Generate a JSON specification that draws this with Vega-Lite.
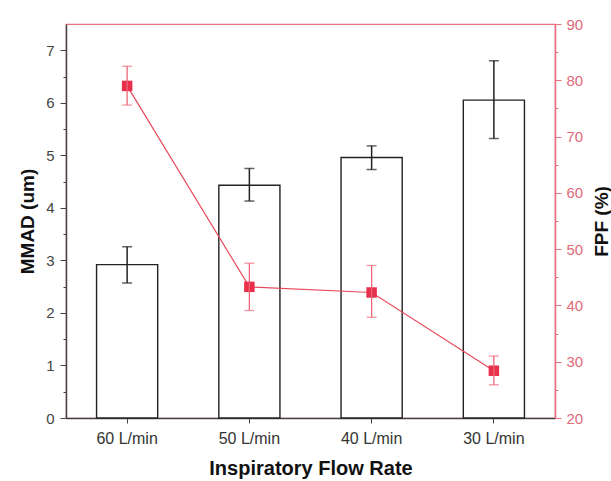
{
  "$schema": "https://vega.github.io/schema/vega-lite/v6.json",
  "width": 489,
  "height": 394,
  "autosize": "none",
  "padding": {"left": 66, "top": 24, "right": 56, "bottom": 63},
  "background": "white",
  "config": {
    "view": {"stroke": "#e8707f", "strokeWidth": 1.2},
    "font": "Liberation Sans",
    "axis": {"grid": false}
  },
  "data": {
    "values": [
      {"rate": "60 L/min", "mmad": 2.92, "mmad_lo": 2.57, "mmad_hi": 3.26, "fpf": 79.0, "fpf_lo": 75.6, "fpf_hi": 82.5},
      {"rate": "50 L/min", "mmad": 4.43, "mmad_lo": 4.13, "mmad_hi": 4.75, "fpf": 43.3, "fpf_lo": 39.1, "fpf_hi": 47.5},
      {"rate": "40 L/min", "mmad": 4.96, "mmad_lo": 4.73, "mmad_hi": 5.18, "fpf": 42.3, "fpf_lo": 37.9, "fpf_hi": 47.1},
      {"rate": "30 L/min", "mmad": 6.05, "mmad_lo": 5.32, "mmad_hi": 6.8, "fpf": 28.4, "fpf_lo": 25.9, "fpf_hi": 31.0}
    ]
  },
  "encoding": {
    "x": {
      "field": "rate",
      "type": "nominal",
      "sort": ["60 L/min", "50 L/min", "40 L/min", "30 L/min"],
      "scale": {"paddingInner": 0.5, "paddingOuter": 0.25},
      "axis": {
        "title": "Inspiratory Flow Rate",
        "labelAngle": 0,
        "labelFontSize": 16,
        "labelColor": "#333",
        "labelPadding": 7,
        "domainColor": "#444",
        "domainWidth": 1.5,
        "tickColor": "#444",
        "tickSize": 5,
        "titleFontSize": 20,
        "titleFontWeight": "bold",
        "titleColor": "#111",
        "titlePadding": 12
      }
    }
  },
  "layer": [
    {
      "encoding": {
        "y": {
          "field": "mmad",
          "type": "quantitative",
          "scale": {"domain": [0, 7.5], "nice": false},
          "axis": {
            "title": "MMAD (um)",
            "values": [0, 0.5, 1, 1.5, 2, 2.5, 3, 3.5, 4, 4.5, 5, 5.5, 6, 6.5, 7],
            "labelExpr": "datum.value % 1 === 0 ? format(datum.value, 'd') : ''",
            "tickSize": {"condition": {"test": "datum.value % 1 === 0", "value": 6}, "value": 3},
            "labelFontSize": 15,
            "labelColor": "#444",
            "labelPadding": 6,
            "domainColor": "#444",
            "domainWidth": 1.5,
            "tickColor": "#444",
            "titleFontSize": 19,
            "titleFontWeight": "bold",
            "titleColor": "#111",
            "titlePadding": 8
          }
        }
      },
      "layer": [
        {"mark": {"type": "bar", "fill": "white", "stroke": "#222", "strokeWidth": 1.4}},
        {
          "mark": {"type": "errorbar", "color": "#222", "ticks": {"size": 10}, "thickness": 1.5},
          "encoding": {
            "y": {"field": "mmad_lo", "type": "quantitative", "title": "MMAD (um)"},
            "y2": {"field": "mmad_hi"}
          }
        }
      ]
    },
    {
      "encoding": {
        "y": {
          "field": "fpf",
          "type": "quantitative",
          "scale": {"domain": [20, 90], "nice": false, "zero": false},
          "axis": {
            "orient": "right",
            "title": "FPF (%)",
            "values": [20, 25, 30, 35, 40, 45, 50, 55, 60, 65, 70, 75, 80, 85, 90],
            "labelExpr": "datum.value % 10 === 0 ? format(datum.value, 'd') : ''",
            "tickSize": {"condition": {"test": "datum.value % 10 === 0", "value": 6}, "value": 3},
            "labelFontSize": 15,
            "labelColor": "#e06a7a",
            "labelPadding": 5,
            "domainColor": "#e8707f",
            "domainWidth": 1.5,
            "tickColor": "#e8707f",
            "titleFontSize": 19,
            "titleFontWeight": "bold",
            "titleColor": "#111",
            "titleAngle": 270,
            "titleBaseline": "middle",
            "titleAlign": "center",
            "titleX": 46,
            "titleY": 197
          }
        }
      },
      "layer": [
        {"mark": {"type": "line", "color": "#e8495b", "strokeWidth": 1.2}},
        {"mark": {"type": "point", "shape": "square", "filled": true, "size": 110, "color": "#e8304a", "opacity": 1}},
        {
          "mark": {"type": "errorbar", "color": "#ee6677", "ticks": {"size": 10}, "thickness": 1.3},
          "encoding": {
            "y": {"field": "fpf_lo", "type": "quantitative", "title": "FPF (%)"},
            "y2": {"field": "fpf_hi"}
          }
        }
      ]
    }
  ],
  "resolve": {"scale": {"y": "independent"}}
}
